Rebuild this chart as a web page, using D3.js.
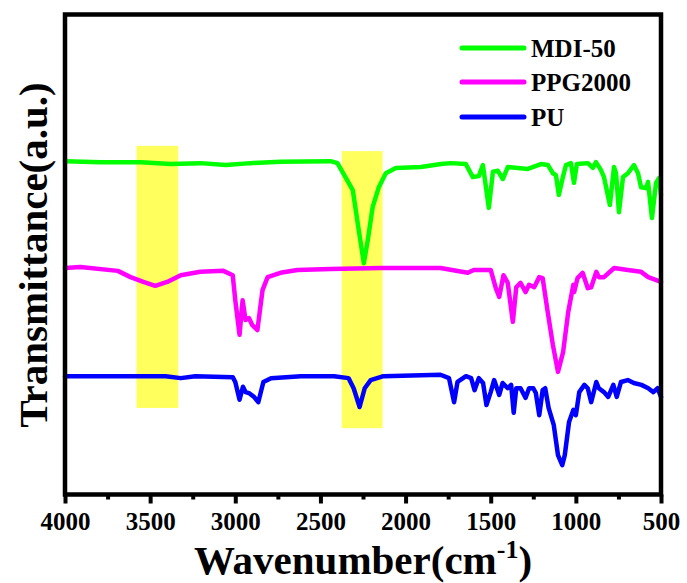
<!DOCTYPE html>
<html>
<head>
<meta charset="utf-8">
<script src="https://cdn.jsdelivr.net/npm/d3@7"></script>
<style>
  html, body { margin: 0; padding: 0; background: #fff; }
  svg { display: block; }
</style>
</head>
<body>
<svg id="chart" width="687" height="583"></svg>
<script>
// ---- Data (wavenumber cm^-1, transmittance a.u.) ----
const seriesNames = ["MDI-50", "PPG2000", "PU"];
const seriesColors = ["#00ff00", "#ff00ff", "#0000ff"];

const mdiWn = [4000,3790,3555,3380,3205,3055,2910,2735,2440,2400,2350,2310,2275,2245,2222,2193,2157,2116,2057,1910,1793,1734,1646,1605,1570,1546,1511,1487,1458,1429,1399,1282,1205,1164,1135,1117,1100,1076,1058,1029,1011,994,929,900,882,853,835,800,776,764,747,723,694,659,635,617,588,576,553,529,512,500];
const mdiT  = [69.5,69.3,69.3,68.9,69.1,68.7,69.1,69.4,69.5,69.1,66.0,63.5,55.2,48.3,53.1,60.0,64.1,67.0,68.1,68.3,68.9,69.1,68.9,66.2,66.4,68.7,59.8,67.3,67.5,65.8,68.3,67.9,68.9,68.7,67.0,66.6,62.5,66.2,68.7,69.1,65.0,68.9,69.1,68.1,69.3,67.7,66.2,60.4,68.3,67.0,58.9,66.2,67.0,68.7,67.0,64.1,63.9,65.2,57.7,65.0,66.0,62.5];

const ppgWn = [4000,3910,3690,3615,3540,3470,3400,3320,3205,3070,3015,3000,2975,2957,2940,2920,2900,2870,2840,2810,2735,2635,2440,2145,1795,1635,1600,1500,1470,1450,1425,1400,1370,1350,1325,1295,1275,1245,1215,1195,1165,1135,1105,1075,1045,1015,1010,990,960,930,910,880,865,835,775,695,617,575,500];
const ppgT  = [47.3,47.5,46.7,45.4,44.4,43.6,44.4,45.8,46.5,46.7,45.8,40.6,33.4,40.6,36.5,36.9,35.4,34.4,42.7,45.4,46.3,46.9,47.1,47.3,47.3,46.3,46.9,46.9,43.1,41.3,45.8,44.2,36.1,43.3,44.2,42.3,43.8,43.3,45.4,45.2,38.1,31.3,25.7,29.8,38.1,43.8,42.3,45.2,46.3,43.1,43.3,46.5,45.4,45.4,47.3,46.9,46.5,45.4,44.4];

const puWn = [4000,3675,3410,3320,3235,3015,3000,2975,2955,2940,2920,2890,2865,2835,2790,2615,2420,2335,2305,2270,2240,2205,2130,1795,1745,1715,1695,1645,1615,1595,1570,1545,1525,1500,1480,1450,1430,1400,1380,1365,1350,1325,1295,1275,1250,1235,1215,1195,1180,1160,1130,1105,1080,1065,1040,1015,1000,980,950,930,910,880,865,835,810,780,760,735,695,660,615,575,545,520,500];
const puT  = [24.8,24.8,24.8,24.4,24.8,24.6,23.6,19.9,22.6,21.5,21.3,20.5,19.4,23.6,24.4,24.8,24.8,24.4,22.3,18.4,22.3,24.0,24.8,25.1,24.4,19.4,23.6,24.8,24.4,21.9,24.4,23.4,18.8,21.5,24.0,20.9,23.4,22.3,23.0,17.2,22.3,22.3,20.3,22.3,22.3,21.3,16.7,21.9,22.3,18.2,14.7,8.4,6.3,8.4,15.3,17.8,16.7,21.5,23.0,22.3,19.4,23.6,22.3,21.5,20.5,23.0,20.5,23.6,24.0,23.4,23.0,22.3,21.5,22.3,20.5];

// highlighted bands
const bandWnFrom = [3580, 2375];
const bandWnTo   = [3335, 2135];
const bandTTop   = [72.7, 71.6];
const bandTBot   = [18.2, 14.0];

const xTicks = [4000,3500,3000,2500,2000,1500,1000,500];
const xMinorTicks = [3750,3250,2750,2250,1750,1250,750];

// ---- Layout ----
const svg = d3.select("#chart");
const mLeft = 65, mRight = 661, mTop = 14.5, mBottom = 495.5;
const x = d3.scaleLinear().domain([4000, 500]).range([mLeft, mRight]);
const y = d3.scaleLinear().domain([0, 100]).range([mBottom, mTop]);
const fontFam = "'Times New Roman', 'Liberation Serif', serif";

// bands
const bands = bandWnFrom.map((w, i) => ({ a: w, b: bandWnTo[i], t: bandTTop[i], bt: bandTBot[i] }));
svg.append("g").selectAll("rect").data(bands).join("rect")
  .attr("x", d => x(d.a))
  .attr("width", d => x(d.b) - x(d.a))
  .attr("y", d => y(d.t))
  .attr("height", d => y(d.bt) - y(d.t))
  .attr("fill", "#ffff5e");

// series
const series = [
  { name: seriesNames[0], color: seriesColors[0], wn: mdiWn, t: mdiT },
  { name: seriesNames[1], color: seriesColors[1], wn: ppgWn, t: ppgT },
  { name: seriesNames[2], color: seriesColors[2], wn: puWn, t: puT }
];
const line = d3.line().x(d => x(d[0])).y(d => y(d[1])).curve(d3.curveLinear);
svg.append("g").selectAll("path").data(series).join("path")
  .attr("d", s => line(s.wn.map((w, i) => [w, s.t[i]])))
  .attr("fill", "none")
  .attr("stroke", s => s.color)
  .attr("stroke-width", 4.5)
  .attr("stroke-linejoin", "round")
  .attr("stroke-linecap", "round");

// x axis ticks
const axisY = 494.5;
const xAxis = d3.axisBottom(x).tickValues(xTicks).tickSize(9).tickPadding(9).tickFormat(d3.format("d"));
const gx = svg.append("g").attr("transform", `translate(0,${axisY})`).call(xAxis);
gx.select(".domain").remove();
gx.selectAll(".tick line").attr("stroke", "#000").attr("stroke-width", 4);
gx.selectAll(".tick text")
  .attr("font-family", fontFam).attr("font-weight", "bold").attr("font-size", 25)
  .attr("fill", "#000");
const xAxisMinor = d3.axisBottom(x).tickValues(xMinorTicks).tickSize(5).tickFormat("");
const gxm = svg.append("g").attr("transform", `translate(0,${axisY})`).call(xAxisMinor);
gxm.select(".domain").remove();
gxm.selectAll(".tick line").attr("stroke", "#000").attr("stroke-width", 4);

// frame
svg.append("rect")
  .attr("x", mLeft).attr("y", mTop)
  .attr("width", mRight - mLeft).attr("height", axisY - mTop)
  .attr("fill", "none").attr("stroke", "#000").attr("stroke-width", 4.5);

// axis titles
const xt = svg.append("text")
  .attr("x", 363).attr("y", 574)
  .attr("text-anchor", "middle")
  .attr("font-family", fontFam).attr("font-weight", "bold").attr("font-size", 41)
  .attr("fill", "#000");
xt.append("tspan").text("Wavenumber(cm");
xt.append("tspan").attr("font-size", 26).attr("dy", -16).text("-1");
xt.append("tspan").attr("dy", 16).text(")");

svg.append("text")
  .attr("transform", "translate(47,255) rotate(-90)")
  .attr("text-anchor", "middle")
  .attr("font-family", fontFam).attr("font-weight", "bold").attr("font-size", 41)
  .attr("fill", "#000")
  .text("Transmittance(a.u.)");

// legend
const legY = [48, 82, 117];
const leg = svg.append("g").selectAll("g").data(series).join("g")
  .attr("transform", (d, i) => `translate(0,${legY[i]})`);
leg.append("line")
  .attr("x1", 462).attr("x2", 524).attr("y1", 0).attr("y2", 0)
  .attr("stroke", d => d.color).attr("stroke-width", 5).attr("stroke-linecap", "round");
leg.append("text")
  .attr("x", 531).attr("y", 9)
  .attr("font-family", fontFam).attr("font-weight", "bold").attr("font-size", 25)
  .attr("fill", "#000")
  .text(d => d.name);
</script>
</body>
</html>
